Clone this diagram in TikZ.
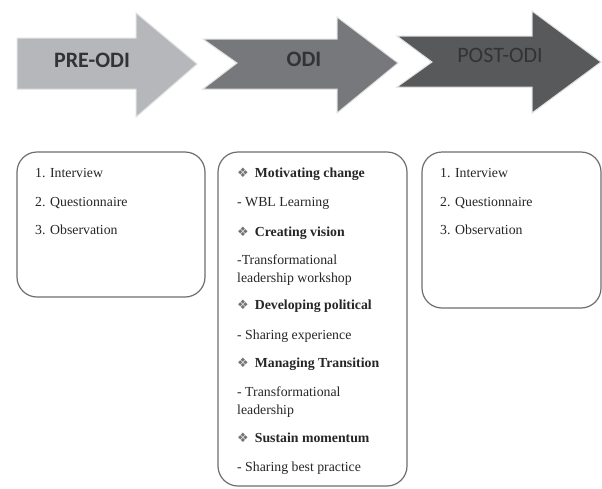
\documentclass[tikz,border=0pt]{standalone}
\usepackage{fontspec}
\setmainfont{Liberation Serif}[Ligatures=TeX]
\newfontfamily\serifbox{Liberation Serif}
\newfontfamily\arrowfont{Carlito}
\newfontfamily\dejavusym{DejaVu Sans}
\definecolor{preC}{RGB}{182,183,187}
\definecolor{odiC}{RGB}{119,120,124}
\definecolor{postC}{RGB}{88,89,91}
\definecolor{boxC}{RGB}{110,110,110}
\newcommand{\dbul}{{\dejavusym\fontsize{13}{13}\selectfont\textcolor{black!55}{❖}}\hspace{6pt}}
\begin{document}
\begin{tikzpicture}[x=1pt,y=-1pt,
  arrowshape/.style={draw=black!12,line width=1pt,line join=miter},
  arrowlabel/.style={inner sep=0pt,font=\arrowfont\bfseries\fontsize{22}{22}\selectfont,text=black!80},
  boxshape/.style={draw=boxC,line width=1.2pt,rounded corners=20pt,fill=white},
  item/.style={anchor=base west,inner sep=0pt,font=\serifbox\fontsize{13.8}{16}\selectfont,text=black!85},
  headitem/.style={item,font=\serifbox\bfseries\fontsize{13.8}{16}\selectfont}
]
\useasboundingbox (0,0) rectangle (602,488);
\fill[white] (0,0) rectangle (602,488);

% arrows
\path[arrowshape,fill=preC] (17,38) -- (136,38) -- (136,13) -- (197,64) -- (136,117) -- (136,89) -- (17,89) -- cycle;
\path[arrowshape,fill=odiC] (203,39) -- (337,39) -- (337,17) -- (398,63) -- (337,113) -- (337,89) -- (203,89) -- (237,63) -- cycle;
\path[arrowshape,fill=postC] (397,36) -- (532,36) -- (532,11) -- (601,62) -- (532,113) -- (532,87) -- (397,87) -- (432,62) -- cycle;

\node[arrowlabel] (lpre) at (92,60) {PRE-ODI};
\node[arrowlabel] (lodi) at (304,59) {ODI};
\node[arrowlabel,font=\arrowfont\fontsize{22}{22}\selectfont] (lpost) at (500,55) {POST-ODI};

% boxes
\draw[boxshape] (17,152) rectangle (205,297);
\draw[boxshape] (218,152) rectangle (407,486);
\draw[boxshape] (422,152) rectangle (601,308);

% box 1
\node[item] (a1) at (35,177) {1. Interview};
\node[item] (a2) at (35,206) {2. Questionnaire};
\node[item] (a3) at (35,234) {3. Observation};

% box 3
\node[item] (c1) at (440,177) {1. Interview};
\node[item] (c2) at (440,206) {2. Questionnaire};
\node[item] (c3) at (440,234) {3. Observation};

% box 2
\node[headitem] (b1) at (237,177) {\dbul Motivating change};
\node[item] (b2) at (237,206) {- WBL Learning};
\node[headitem] (b3) at (237,236) {\dbul Creating vision};
\node[item] (b4) at (237,264) {-Transformational};
\node[item] (b5) at (237,282) {leadership workshop};
\node[headitem] (b6) at (237,309) {\dbul Developing political};
\node[item] (b7) at (237,339) {- Sharing experience};
\node[headitem] (b8) at (237,367) {\dbul Managing Transition};
\node[item] (b9) at (237,396) {- Transformational};
\node[item] (b10) at (237,414) {leadership};
\node[headitem] (b11) at (237,442) {\dbul Sustain momentum};
\node[item] (b12) at (237,471) {- Sharing best practice};
\end{tikzpicture}
\end{document}
